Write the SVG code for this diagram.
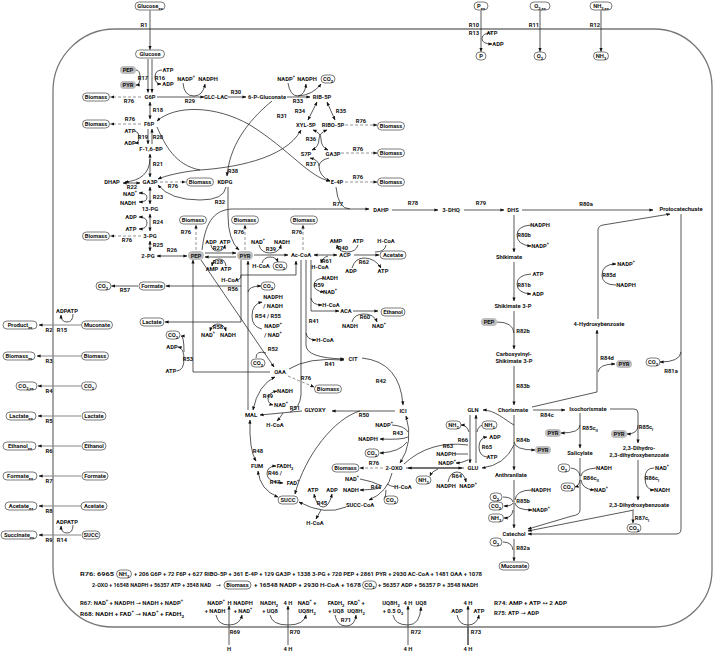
<svg xmlns="http://www.w3.org/2000/svg" width="714" height="654" viewBox="0 0 714 654">
<defs>
<marker id="ah" markerUnits="userSpaceOnUse" markerWidth="4" markerHeight="4" viewBox="0 0 10 10" refX="9" refY="5" orient="auto-start-reverse"><path d="M0,1 L10,5 L0,9 z" fill="#111"/></marker>
</defs>
<style>
.t{font-family:Roboto,"Liberation Sans",Arial,sans-serif;font-weight:bold;font-size:5.8px;text-anchor:middle;dominant-baseline:central;fill:#111}
.s{text-anchor:start}
.ar{font-family:"DejaVu Sans",sans-serif;font-weight:normal}
.l{fill:none;stroke:#111;stroke-width:0.7}
.a{marker-end:url(#ah)}
.b{marker-start:url(#ah);marker-end:url(#ah)}
.dash{fill:none;stroke:#888;stroke-width:0.9;stroke-dasharray:3 2;marker-end:url(#ah)}
.tr{fill:none;stroke:#888;stroke-width:1.2;marker-end:url(#ah)}
.gl{fill:none;stroke:#888;stroke-width:1.4}
.p{fill:#fff;stroke:#222;stroke-width:0.6}
.g{fill:#bdbdbd;stroke:none}
.sup{font-size:4px;baseline-shift:super}
.sub{font-size:4px;baseline-shift:sub}
.wall{fill:none;stroke:#777;stroke-width:1.3}
</style>
<rect width="714" height="654" fill="#fff"/>
<path class="wall" d="M115,29 H654 A58,58 0 0 1 712,87 V570 A57,57 0 0 1 655,627 H113 A60,60 0 0 1 53,567 V91 A62,62 0 0 1 115,29 Z"/>

<g id="connectors">
<path class="l a" d="M150,10.5 V49.5"/>
<path class="l a" d="M481,10.5 V51.5"/>
<path class="l a" d="M492,33 Q482,33 482,38.5 Q482,44 492,44"/>
<path class="l a" d="M540,10.5 V51.5"/>
<path class="l a" d="M601,10.5 V51.5"/>
<path class="tr" d="M81,325 H39"/>
<path class="l a" d="M73,314 Q73,322 67,322 Q61,322 61,315"/>
<path class="tr" d="M81,356 H37"/>
<path class="tr" d="M81,386 H38"/>
<path class="tr" d="M81,416 H38"/>
<path class="tr" d="M81,446 H38"/>
<path class="tr" d="M81,476 H39"/>
<path class="tr" d="M81,506 H39"/>
<path class="tr" d="M81,535 H39"/>
<path class="l a" d="M73,525 Q73,533 67,533 Q61,533 61,526"/>
<path class="l a" d="M148,59 V92.5"/>
<path class="l a" d="M152,59 V92.5"/>
<path class="l a" d="M136,70 Q140,70 140,77 Q140,85 136,85"/>
<path class="l a" d="M162,70 Q155,70 155,77 Q155,84 161,84"/>
<path class="dash" d="M141,97 H110.5"/>
<path class="l a" d="M157,97 H204"/>
<path class="l a" d="M183,83 Q184,96 194,96 Q203,96 205,84"/>
<path class="l a" d="M228,97 H246"/>
<path class="l a" d="M287,97 H310"/>
<path class="l" d="M288,83 Q290,96 298,96"/>
<path class="l a" d="M298,96 Q305,95 306,84"/>
<path class="l a" d="M298,96 Q313,95 321,84"/>
<path class="l a" d="M272,101 C255,115 230,140 227,176"/>
<path class="l b" d="M317,102 L308,120"/>
<path class="l b" d="M327,102 L335,120"/>
<path class="dash" d="M345,125 H377"/>
<path class="l b" d="M313,130 Q321,133 321,139 Q321,147 328,150"/>
<path class="l b" d="M327,130 Q319,133 319,139 Q319,147 312,150"/>
<path class="dash" d="M341,153 H377"/>
<path class="l b" d="M310,158 Q319,160 319,166 Q319,176 330,181"/>
<path class="l" d="M329,158 Q320,160 319,166"/>
<path class="dash" d="M345,182 H377"/>
<path class="l a" d="M202,250 C205,225 212,210 232,209 H369"/>
<path class="l" d="M336,187 Q338,209 350,209"/>
<path class="l a" d="M226,187 Q224,200 200,200 Q170,200 158,185"/>
<path class="l a" d="M228,187 V215 Q228,240 239,250"/>
<path class="l b" d="M157,121 C175,105 215,105 250,125 C290,150 310,178 330,181"/>
<path class="l b" d="M301,130 C285,160 230,168 200,170 C180,172 165,176 158,179"/>
<path class="l" d="M157,127 C165,145 175,165 200,170"/>
<path class="l b" d="M150,102 V119"/>
<path class="dash" d="M141,124 H110.5"/>
<path class="l a" d="M148,129 V144"/>
<path class="l a" d="M152,144 V129"/>
<path class="l a" d="M135,131 Q139,132 139,137 Q139,143 135,143"/>
<path class="l b" d="M150,154 V177"/>
<path class="l a" d="M150,159 Q149,180 125,182"/>
<path class="l b" d="M123,183 H140"/>
<path class="dash" d="M160,182 H185.5"/>
<path class="l b" d="M150,187 V204"/>
<path class="l b" d="M139,193 Q147,193 147,197.5 Q147,202 139,202"/>
<path class="l b" d="M150,214 V231"/>
<path class="l b" d="M139,217 Q147,217 147,223 Q147,229 139,229"/>
<path class="dash" d="M141,236 H110.5"/>
<path class="l b" d="M150,241 V251"/>
<path class="l b" d="M157,256 H187"/>
<path class="l a" d="M205,253 H236"/>
<path class="l a" d="M236,257 H205"/>
<path class="l a" d="M211,245 Q212,251 218,251 Q224,251 225,245"/>
<path class="l a" d="M226,266 Q225,259 219,259 Q213,259 212,266"/>
<path class="dash" d="M196,250 V225"/>
<path class="dash" d="M245,250 V225"/>
<path class="dash" d="M303,250 V225"/>
<path class="l a" d="M254,255 H288"/>
<path class="l a" d="M259,245 Q261,253 270,253 Q279,253 281,245"/>
<path class="l a" d="M262,263 Q264,257 270,257 Q276,257 278,262"/>
<path class="l b" d="M314,255 H337"/>
<path class="l a" d="M354,255 H379"/>
<path class="l a" d="M358,245 Q356,252 347,252 Q338,252 337,245"/>
<path class="l" d="M386,245 Q385,252 375,252"/>
<path class="l a" d="M328,256 Q322,258 321,263"/>
<path class="l a" d="M352,268 Q355,258 364,258 Q375,258 381,268"/>
<path class="l a" d="M311,260 V311 H339"/>
<path class="l a" d="M324,278 Q314,279 314,285 Q314,291 324,292"/>
<path class="l a" d="M311,298 Q312,305 322,305"/>
<path class="l a" d="M353,311 H378"/>
<path class="l a" d="M352,322 Q354,314 364,314 Q374,314 377,322"/>
<path class="l a" d="M306,260 V345 Q306,358 344,359"/>
<path class="l a" d="M306,333 Q307,340 316,340"/>
<path class="l" d="M301,260 V395 Q300,408 290,412"/>
<path class="l a" d="M289,369 Q308,357 344,360"/>
<path class="l a" d="M362,358 Q400,362 403,405"/>
<path class="l a" d="M395,411 H332"/>
<path class="l a" d="M360,411 C335,418 305,455 295,494"/>
<path class="l a" d="M302,411 L260,415"/>
<path class="l a" d="M283,413 Q280,418 277,421"/>
<path class="l b" d="M253,410 Q258,385 275,377"/>
<path class="l b" d="M277,391 Q268,393 268,398 Q268,404 273,405"/>
<path class="dash" d="M288,376 L314,387"/>
<path class="l a" d="M201,260 L274,367"/>
<path class="l" d="M256,358 Q256,350 266,353"/>
<path class="l a" d="M270,372 H193 V260"/>
<path class="l a" d="M177,371 Q184,370 184,359 Q184,348 178,347"/>
<path class="l a" d="M184,352 Q184,336 181,336"/>
<path class="l a" d="M241,260 V322 H165"/>
<path class="l b" d="M210,331 Q212,324 218,324 Q224,324 226,331"/>
<path class="l a" d="M241,286 H166"/>
<path class="l a" d="M241,275 H296 V261"/>
<path class="l" d="M236,280 Q241,280 241,275"/>
<path class="l a" d="M138,286 H111.5"/>
<path class="l a" d="M248,410 V261"/>
<path class="l a" d="M248,292 Q249,286 261,286"/>
<path class="l a" d="M262,329 Q252,327 252,316 Q252,304 262,302"/>
<path class="l b" d="M250,420 Q249,450 256,461"/>
<path class="l b" d="M278,497 Q260,490 258,471"/>
<path class="l b" d="M276,466 Q267,466 267,474 Q267,482 283,483"/>
<path class="l a" d="M346,507 Q325,516 299,502"/>
<path class="l b" d="M314,494 Q317,507 323,507 Q329,507 332,494"/>
<path class="l a" d="M321,510 L316,519"/>
<path class="l b" d="M406,416 Q414,442 400,463"/>
<path class="l" d="M392,425 Q405,426 408,432"/>
<path class="l a" d="M408,437 Q402,440 380,439"/>
<path class="l a" d="M407,442 Q400,452 380,453"/>
<path class="dash" d="M383,468 H360"/>
<path class="l a" d="M392,473 Q388,492 369,500"/>
<path class="l" d="M360,479 Q372,481 382,486"/>
<path class="l a" d="M381,488 Q372,490 360,490"/>
<path class="l" d="M395,487 Q390,486 387,484"/>
<path class="l a" d="M386,490 Q386,497 384,499"/>
<path class="gl" d="M406,468 H464"/>
<path class="l b" d="M408,468 H462"/>
<path class="l a" d="M476,463 V415"/>
<path class="l a" d="M487,457 Q479,456 479,447 Q479,438 487,437"/>
<path class="l" d="M483,425 Q478,426 477,432"/>
<path class="l a" d="M470,415 V463"/>
<path class="l a" d="M469,432 Q467,425 461,425"/>
<path class="l" d="M404,464 Q430,440 468,445"/>
<path class="l" d="M455,454 H468"/>
<path class="l a" d="M468,460 Q462,463 456,463"/>
<path class="l a" d="M438,469 Q432,471 430,476"/>
<path class="l a" d="M448,482 Q450,472 457,472 Q464,472 466,482"/>
<path class="l a" d="M514,425 C505,420 495,410 483,410"/>
<path class="l a" d="M514,445 Q505,465 482,468"/>
<path class="l a" d="M392,210 H438"/>
<path class="l a" d="M464,210 H504"/>
<path class="l a" d="M522,210 H653"/>
<path class="l a" d="M514,215 V252"/>
<path class="l a" d="M531,225 Q517,226 517,235 Q517,245 531,246"/>
<path class="l a" d="M514,262 V301"/>
<path class="l a" d="M531,274 Q517,275 517,284 Q517,293 531,294"/>
<path class="l a" d="M514,311 V349"/>
<path class="l" d="M497,322 Q513,322 514,333"/>
<path class="l a" d="M514,366 V405"/>
<path class="l a" d="M532,407 L597,392 V330"/>
<path class="l a" d="M598,372 Q599,364 615,364"/>
<path class="l a" d="M598,319 V230 Q598,226 603,225 L670,214"/>
<path class="l a" d="M616,285 Q602,285 602,275 Q602,264 616,264"/>
<path class="l a" d="M681,214 V529 Q681,534 676,534 H528"/>
<path class="l a" d="M681,352 Q680,362 660,362"/>
<path class="l a" d="M533,410 H565"/>
<path class="l a" d="M580,413 V448"/>
<path class="l a" d="M580,425 Q580,433 561,433"/>
<path class="l a" d="M610,409 H634 Q638,409 638,413 V443"/>
<path class="l a" d="M638,425 Q638,434 627,434"/>
<path class="l a" d="M638,460 V500"/>
<path class="l a" d="M654,468 Q645,468 645,478 Q645,490 654,490"/>
<path class="l a" d="M634,510 L528,531"/>
<path class="l a" d="M633,511 V523"/>
<path class="l a" d="M580,458 V510 Q580,515 572,516 L528,529"/>
<path class="l" d="M571,468 Q579,469 580,476"/>
<path class="l" d="M596,468 Q582,469 581,476"/>
<path class="l a" d="M580,480 Q579,486 575,487"/>
<path class="l a" d="M581,480 Q582,489 594,490"/>
<path class="l a" d="M514,415 V470"/>
<path class="l a" d="M514,442 Q515,450 535,450"/>
<path class="l a" d="M514,480 V528"/>
<path class="l" d="M503,497 Q512,497 513,502"/>
<path class="l" d="M532,490 Q516,490 515,500"/>
<path class="l a" d="M513,503 Q512,506 504,506"/>
<path class="l a" d="M515,503 Q516,510 532,510"/>
<path class="l a" d="M513,510 Q512,518 504,518"/>
<path class="l a" d="M514,539 V561"/>
<path class="l" d="M503,542 Q512,542 513,550"/>
<path class="l a" d="M229,645 V606"/>
<path class="l a" d="M216,615 Q218,625 229,625 Q240,625 242,615"/>
<path class="l a" d="M288,645 V606"/>
<path class="l a" d="M270,615 Q272,625 288,625 Q304,625 306,615"/>
<path class="l a" d="M335,615 Q337,626 346,626 Q355,626 356,615"/>
<path class="l a" d="M408,645 V606"/>
<path class="l a" d="M393,615 Q395,625 408,625 Q420,625 421,607"/>
<path class="gl" d="M468,627 V645"/>
<path class="l a" d="M468,645 V606"/>
<path class="l a" d="M457,615 Q459,625 468,625 Q477,625 479,615"/>
</g>

<g id="extracellular">
<g id="glucose_ex"><rect class="p" x="135" y="2" width="30" height="8" rx="4"/><text class="t" x="150" y="6">Glucose<tspan class="sub">ex</tspan></text></g>
<g id="p_ex"><rect class="p" x="474" y="2" width="14" height="8" rx="4"/><text class="t" x="481" y="6">P<tspan class="sub">ex</tspan></text></g>
<g id="o2_ex"><rect class="p" x="530" y="2" width="20" height="8" rx="4"/><text class="t" x="540" y="6">O<tspan class="sub">2,ex</tspan></text></g>
<g id="nh3_ex"><rect class="p" x="590" y="2" width="22" height="8" rx="4"/><text class="t" x="601" y="6">NH<tspan class="sub">3,ex</tspan></text></g>
<g id="product_ex"><rect class="p" x="3" y="321" width="34" height="8" rx="4"/><text class="t" x="20" y="325">Product<tspan class="sub">ex</tspan></text></g>
<g id="biomass_ex"><rect class="p" x="3" y="352" width="32" height="8" rx="4"/><text class="t" x="19" y="356">Biomass<tspan class="sub">ex</tspan></text></g>
<g id="co2_ex"><rect class="p" x="16" y="382" width="21" height="8" rx="4"/><text class="t" x="26" y="386">CO<tspan class="sub">2,ex</tspan></text></g>
<g id="lactate_ex"><rect class="p" x="6" y="412" width="30" height="8" rx="4"/><text class="t" x="21" y="416">Lactate<tspan class="sub">ex</tspan></text></g>
<g id="ethanol_ex"><rect class="p" x="3" y="442" width="33" height="8" rx="4"/><text class="t" x="20" y="446">Ethanol<tspan class="sub">ex</tspan></text></g>
<g id="formate_ex"><rect class="p" x="3" y="472" width="34" height="8" rx="4"/><text class="t" x="20" y="476">Formate<tspan class="sub">ex</tspan></text></g>
<g id="acetate_ex"><rect class="p" x="5" y="502" width="32" height="8" rx="4"/><text class="t" x="21" y="506">Acetate<tspan class="sub">ex</tspan></text></g>
<g id="succinate_ex"><rect class="p" x="1" y="531" width="36" height="8" rx="4"/><text class="t" x="19" y="535">Succinate<tspan class="sub">ex</tspan></text></g>
</g>

<g id="transport_in">
<g id="glucose"><rect class="p" x="135.5" y="50" width="29" height="8" rx="4"/><text class="t" x="150" y="54">Glucose</text></g>
<g id="p_in"><rect class="p" x="476" y="52" width="10" height="8" rx="4"/><text class="t" x="481" y="56">P</text></g>
<g id="o2_in"><rect class="p" x="534" y="52" width="12" height="8" rx="4"/><text class="t" x="540" y="56">O<tspan class="sub">2</tspan></text></g>
<g id="nh3_in"><rect class="p" x="593.5" y="52" width="15" height="8" rx="4"/><text class="t" x="601" y="56">NH<tspan class="sub">3</tspan></text></g>
<g id="muconate_in"><rect class="p" x="81.5" y="321" width="31" height="8" rx="4"/><text class="t" x="97" y="325">Muconate</text></g>
<g id="biomass_in"><rect class="p" x="81.5" y="352" width="27" height="8" rx="4"/><text class="t" x="95" y="356">Biomass</text></g>
<g id="co2_in"><rect class="p" x="81.5" y="382" width="15" height="8" rx="4"/><text class="t" x="89" y="386">CO<tspan class="sub">2</tspan></text></g>
<g id="lactate_in"><rect class="p" x="82" y="412" width="24" height="8" rx="4"/><text class="t" x="94" y="416">Lactate</text></g>
<g id="ethanol_in"><rect class="p" x="82" y="442" width="24" height="8" rx="4"/><text class="t" x="94" y="446">Ethanol</text></g>
<g id="formate_in"><rect class="p" x="82" y="472" width="26" height="8" rx="4"/><text class="t" x="95" y="476">Formate</text></g>
<g id="acetate_in"><rect class="p" x="81" y="502" width="26" height="8" rx="4"/><text class="t" x="94" y="506">Acetate</text></g>
<g id="succ_in"><rect class="p" x="82" y="531" width="18" height="8" rx="4"/><text class="t" x="91" y="535">SUCC</text></g>
<text class="t" x="67" y="311">ADPATP</text>
<text class="t" x="67" y="522">ADPATP</text>
<text class="t" x="492" y="33">ATP</text>
<text class="t" x="498" y="44">ADP</text>
</g>

<g id="metabolites">
<g id="pep_a"><rect class="g" x="120" y="66" width="16" height="8" rx="4"/><text class="t" x="128" y="70">PEP</text></g>
<g id="pyr_a"><rect class="g" x="120" y="81" width="16" height="8" rx="4"/><text class="t" x="128" y="85">PYR</text></g>
<text class="t" x="168" y="70">ATP</text><text class="t" x="168" y="84">ADP</text>
<g id="g6p"><text class="t" x="150" y="97">G6P</text></g>
<g id="biomass_g6p"><rect class="p" x="82.5" y="93" width="27" height="8" rx="4"/><text class="t" x="96" y="97">Biomass</text></g>
<g id="f6p"><text class="t" x="149" y="124">F6P</text></g>
<g id="biomass_f6p"><rect class="p" x="82.5" y="120" width="27" height="8" rx="4"/><text class="t" x="96" y="124">Biomass</text></g>
<text class="t" x="130" y="131">ATP</text><text class="t" x="130" y="143">ADP</text>
<g id="f16bp"><text class="t" x="151" y="149">F-1,6-BP</text></g>
<g id="dhap"><text class="t" x="112" y="182">DHAP</text></g>
<g id="ga3p"><text class="t" x="150" y="182">GA3P</text></g>
<g id="biomass_ga3p"><rect class="p" x="186.5" y="178" width="27" height="8" rx="4"/><text class="t" x="200" y="182">Biomass</text></g>
<text class="t" x="130" y="194">NAD<tspan class="sup">+</tspan></text><text class="t" x="128" y="202.5">NADH</text>
<g id="pg13"><text class="t" x="150" y="209">13-PG</text></g>
<text class="t" x="131" y="217">ADP</text><text class="t" x="131" y="229">ATP</text>
<g id="pg3"><text class="t" x="150" y="236">3-PG</text></g>
<g id="biomass_3pg"><rect class="p" x="82.5" y="232" width="27" height="8" rx="4"/><text class="t" x="96" y="236">Biomass</text></g>
<g id="pg2"><text class="t" x="148" y="256">2-PG</text></g>

<text class="t" x="186" y="79">NADP<tspan class="sup">+</tspan></text><text class="t" x="208" y="79">NADPH</text>
<g id="glclac"><text class="t" x="216" y="97">GLC-LAC</text></g>
<g id="pgluc"><text class="t" x="267" y="97">6-P-Gluconate</text></g>
<text class="t" x="286" y="79">NADP<tspan class="sup">+</tspan></text><text class="t" x="307" y="79">NADPH</text>
<g id="co2_r33"><rect class="p" x="321" y="75" width="14" height="8" rx="4"/><text class="t" x="328" y="79">CO<tspan class="sub">2</tspan></text></g>
<g id="rib5p"><text class="t" x="322" y="97">RIB-5P</text></g>
<g id="xyl5p"><text class="t" x="306" y="125">XYL-5P</text></g>
<g id="ribo5p"><text class="t" x="333" y="125">RIBO-5P</text></g>
<g id="biomass_r5p"><rect class="p" x="377.5" y="122" width="27" height="8" rx="4"/><text class="t" x="391" y="126">Biomass</text></g>
<g id="s7p"><text class="t" x="306" y="154">S7P</text></g>
<g id="ga3p_b"><text class="t" x="333" y="154">GA3P</text></g>
<g id="biomass_ga3pb"><rect class="p" x="377.5" y="149" width="27" height="8" rx="4"/><text class="t" x="391" y="153">Biomass</text></g>
<g id="e4p"><text class="t" x="337" y="182">E-4P</text></g>
<g id="biomass_e4p"><rect class="p" x="377.5" y="178" width="27" height="8" rx="4"/><text class="t" x="391" y="182">Biomass</text></g>
<g id="kdpg"><text class="t" x="225" y="182">KDPG</text></g>
<g id="dahp"><text class="t" x="381" y="210">DAHP</text></g>
<g id="dhq"><text class="t" x="451" y="210">3-DHQ</text></g>
<g id="dhs"><text class="t" x="513" y="210">DHS</text></g>
<g id="pca"><text class="t" x="681" y="209">Protocatechuate</text></g>

<g id="biomass_pep"><rect class="p" x="179.5" y="216" width="27" height="8" rx="4"/><text class="t" x="193" y="220">Biomass</text></g>
<g id="biomass_pyr"><rect class="p" x="231.5" y="216" width="27" height="8" rx="4"/><text class="t" x="245" y="220">Biomass</text></g>
<g id="biomass_accoa"><rect class="p" x="290.5" y="216" width="27" height="8" rx="4"/><text class="t" x="304" y="220">Biomass</text></g>
<g id="pep"><rect class="g" x="188" y="251" width="16" height="9" rx="4.5"/><text class="t" x="196" y="255.5">PEP</text></g>
<g id="pyr"><rect class="g" x="237" y="251" width="16" height="9" rx="4.5"/><text class="t" x="245" y="255.5">PYR</text></g>
<text class="t" x="211" y="242">ADP</text><text class="t" x="225" y="242">ATP</text>
<text class="t" x="212" y="269">AMP</text><text class="t" x="226" y="269">ATP</text>
<text class="t" x="258" y="242">NAD<tspan class="sup">+</tspan></text><text class="t" x="282" y="242">NADH</text>
<text class="t" x="261" y="266">H-CoA</text>
<g id="co2_r39"><rect class="p" x="273" y="262" width="14" height="8" rx="4"/><text class="t" x="280" y="266">CO<tspan class="sub">2</tspan></text></g>
<g id="accoa"><text class="t" x="301" y="255">Ac-CoA</text></g>
<text class="t" x="336" y="241">AMP</text><text class="t" x="358" y="241">ATP</text><text class="t" x="386" y="241">H-CoA</text>
<g id="acp"><text class="t" x="345" y="255">ACP</text></g>
<text class="t" x="320" y="267">H-CoA</text>
<text class="t" x="351" y="271">ADP</text><text class="t" x="383" y="271">ATP</text>
<g id="acetate"><rect class="p" x="380" y="251" width="26" height="8" rx="4"/><text class="t" x="393" y="255">Acetate</text></g>
<text class="t" x="330" y="278">NADH</text><text class="t" x="330" y="292">NAD<tspan class="sup">+</tspan></text>
<text class="t" x="331" y="305">H-CoA</text>
<g id="aca"><text class="t" x="346" y="311">ACA</text></g>
<text class="t" x="350" y="326">NADH</text><text class="t" x="379" y="326">NAD<tspan class="sup">+</tspan></text>
<g id="ethanol"><rect class="p" x="381" y="308" width="24" height="8" rx="4"/><text class="t" x="393" y="312">Ethanol</text></g>
<text class="t" x="230" y="280">H-CoA</text>
<g id="co2_r54"><rect class="p" x="261" y="282" width="14" height="8" rx="4"/><text class="t" x="268" y="286">CO<tspan class="sub">2</tspan></text></g>
<g id="formate"><rect class="p" x="139" y="282" width="26" height="8" rx="4"/><text class="t" x="152" y="286">Formate</text></g>
<g id="co2_r57"><rect class="p" x="96" y="282" width="15" height="8" rx="4"/><text class="t" x="103" y="286">CO<tspan class="sub">2</tspan></text></g>
<text class="t" x="273" y="297">NADPH</text><text class="t" x="273" y="306">/ NADH</text>
<text class="t" x="273" y="326">NADP<tspan class="sup">+</tspan></text><text class="t" x="273" y="335">/ NAD<tspan class="sup">+</tspan></text>
<g id="lactate"><rect class="p" x="140" y="318" width="24" height="8" rx="4"/><text class="t" x="152" y="322">Lactate</text></g>
<text class="t" x="208" y="335">NAD<tspan class="sup">+</tspan></text><text class="t" x="228" y="335">NADH</text>
<g id="co2_r53"><rect class="p" x="166" y="331" width="14" height="8" rx="4"/><text class="t" x="173" y="335">CO<tspan class="sub">2</tspan></text></g>
<text class="t" x="172" y="347">ADP</text><text class="t" x="171" y="371">ATP</text>
<text class="t" x="325" y="340">H-CoA</text>
<g id="cit"><text class="t" x="353" y="359">CIT</text></g>
<g id="co2_r52"><rect class="p" x="251" y="359" width="14" height="8" rx="4"/><text class="t" x="258" y="363">CO<tspan class="sub">2</tspan></text></g>
<g id="oaa"><text class="t" x="280" y="372">OAA</text></g>
<g id="biomass_oaa"><rect class="p" x="314.5" y="385" width="27" height="8" rx="4"/><text class="t" x="328" y="389">Biomass</text></g>
<text class="t" x="285" y="391">NADH</text><text class="t" x="281" y="405">NAD<tspan class="sup">+</tspan></text>
<g id="glyoxy"><text class="t" x="315" y="410">GLYOXY</text></g>
<g id="mal"><text class="t" x="251" y="415">MAL</text></g>
<text class="t" x="275" y="425">H-CoA</text>
<g id="ici"><text class="t" x="403" y="411">ICI</text></g>
<text class="t" x="384" y="425">NADP<tspan class="sup">+</tspan></text><text class="t" x="368" y="439">NADPH</text>
<g id="co2_r43"><rect class="p" x="365" y="449" width="14" height="8" rx="4"/><text class="t" x="372" y="453">CO<tspan class="sub">2</tspan></text></g>
<g id="fum"><text class="t" x="257" y="466">FUM</text></g>
<text class="t" x="285" y="466">FADH<tspan class="sub">2</tspan></text><text class="t" x="293" y="483">FAD<tspan class="sup">+</tspan></text>
<g id="biomass_oxo"><rect class="p" x="332" y="464" width="27" height="8" rx="4"/><text class="t" x="345.5" y="468">Biomass</text></g>
<g id="oxo"><text class="t" x="394" y="468">2-OXO</text></g>
<text class="t" x="352" y="479">NAD<tspan class="sup">+</tspan></text><text class="t" x="351" y="490">NADH</text>
<text class="t" x="403" y="487">H-CoA</text>
<g id="co2_r44"><rect class="p" x="384" y="496" width="14" height="8" rx="4"/><text class="t" x="391" y="500">CO<tspan class="sub">2</tspan></text></g>
<g id="succcoa"><text class="t" x="360" y="505">SUCC-CoA</text></g>
<text class="t" x="313" y="490">ATP</text><text class="t" x="332" y="490">ADP</text>
<g id="succ"><rect class="p" x="278" y="496" width="20" height="8" rx="4"/><text class="t" x="288" y="500">SUCC</text></g>
<text class="t" x="315" y="523">H-CoA</text>

<text class="t" x="540" y="225">NADPH</text><text class="t" x="540" y="246">NADP<tspan class="sup">+</tspan></text>
<g id="shikimate"><text class="t" x="509" y="257">Shikimate</text></g>
<text class="t" x="538" y="274">ATP</text><text class="t" x="538" y="294">ADP</text>
<g id="s3p"><text class="t" x="513" y="306">Shikimate 3-P</text></g>
<g id="pep_b"><rect class="g" x="481" y="318" width="16" height="8" rx="4"/><text class="t" x="489" y="322">PEP</text></g>
<g id="cs3p"><text class="t" x="514" y="354">Carboxyvinyl-</text><text class="t" x="514" y="361">Shikimate 3-P</text></g>
<g id="chorismate"><text class="t" x="513" y="410">Chorismate</text></g>
<g id="hb4"><text class="t" x="599" y="324">4-Hydroxybenzoate</text></g>
<text class="t" x="626" y="264">NADP<tspan class="sup">+</tspan></text><text class="t" x="626" y="285">NADPH</text>
<g id="pyr_84d"><rect class="g" x="616" y="360" width="16" height="8" rx="4"/><text class="t" x="624" y="364">PYR</text></g>
<g id="co2_81a"><rect class="p" x="646" y="358" width="14" height="8" rx="4"/><text class="t" x="653" y="362">CO<tspan class="sub">2</tspan></text></g>
<g id="isochorismate"><text class="t" x="588" y="409">Isochorismate</text></g>
<g id="pyr_85c2"><rect class="g" x="545" y="429" width="16" height="8" rx="4"/><text class="t" x="553" y="433">PYR</text></g>
<g id="pyr_85c1"><rect class="g" x="611" y="430" width="16" height="8" rx="4"/><text class="t" x="619" y="434">PYR</text></g>
<g id="gln"><text class="t" x="473" y="410">GLN</text></g>
<g id="nh3_a"><rect class="p" x="446" y="421" width="15" height="8" rx="4"/><text class="t" x="453.5" y="425">NH<tspan class="sub">3</tspan></text></g>
<g id="nh3_b"><rect class="p" x="482" y="421" width="15" height="8" rx="4"/><text class="t" x="489.5" y="425">NH<tspan class="sub">3</tspan></text></g>
<text class="t" x="495" y="437">ADP</text><text class="t" x="492" y="457">ATP</text>
<text class="t" x="446" y="454">NADPH</text><text class="t" x="447" y="463">NADP<tspan class="sup">+</tspan></text>
<g id="glu"><text class="t" x="473" y="468">GLU</text></g>
<g id="nh3_c"><rect class="p" x="416" y="476" width="15" height="8" rx="4"/><text class="t" x="423.5" y="480">NH<tspan class="sub">3</tspan></text></g>
<text class="t" x="446" y="486">NADPH</text><text class="t" x="468" y="486">NADP<tspan class="sup">+</tspan></text>
<g id="pyr_84b"><rect class="g" x="535" y="446" width="16" height="8" rx="4"/><text class="t" x="543" y="450">PYR</text></g>
<g id="salicylate"><text class="t" x="580" y="453">Salicylate</text></g>
<g id="dhdhb"><text class="t" x="639" y="448">2,3-Dihydro-</text><text class="t" x="639" y="455">2,3-dihydroxybenzoate</text></g>
<g id="anthranilate"><text class="t" x="511" y="475">Anthranilate</text></g>
<g id="o2_86"><rect class="p" x="558" y="464" width="12" height="8" rx="4"/><text class="t" x="564" y="468">O<tspan class="sub">2</tspan></text></g>
<text class="t" x="604" y="468">NADH</text>
<g id="co2_86"><rect class="p" x="561" y="483" width="14" height="8" rx="4"/><text class="t" x="568" y="487">CO<tspan class="sub">2</tspan></text></g>
<text class="t" x="601" y="490">NAD<tspan class="sup">+</tspan></text>
<text class="t" x="662" y="468">NAD<tspan class="sup">+</tspan></text><text class="t" x="662" y="490">NADH</text>
<g id="o2_85b"><rect class="p" x="490" y="493" width="12" height="8" rx="4"/><text class="t" x="496" y="497">O<tspan class="sub">2</tspan></text></g>
<g id="co2_85b"><rect class="p" x="489" y="502" width="14" height="8" rx="4"/><text class="t" x="496" y="506">CO<tspan class="sub">2</tspan></text></g>
<g id="nh3_85b"><rect class="p" x="488.5" y="514" width="15" height="8" rx="4"/><text class="t" x="496" y="518">NH<tspan class="sub">3</tspan></text></g>
<text class="t" x="541" y="490">NADPH</text><text class="t" x="541" y="510">NADP<tspan class="sup">+</tspan></text>
<g id="dhb23"><text class="t" x="639" y="505">2,3-Dihydroxybenzoate</text></g>
<g id="co2_87"><rect class="p" x="627" y="524" width="14" height="8" rx="4"/><text class="t" x="634" y="528">CO<tspan class="sub">2</tspan></text></g>
<g id="catechol"><text class="t" x="514" y="534">Catechol</text></g>
<g id="o2_82a"><rect class="p" x="490" y="538" width="12" height="8" rx="4"/><text class="t" x="496" y="542">O<tspan class="sub">2</tspan></text></g>
<g id="muconate"><rect class="p" x="499" y="562" width="30" height="8" rx="4"/><text class="t" x="514" y="566">Muconate</text></g>
</g>

<g id="reaction_labels">
<text class="t" x="144" y="25">R1</text>
<text class="t" x="474" y="25">R10</text><text class="t" x="474" y="33">R13</text>
<text class="t" x="534" y="25">R11</text><text class="t" x="595" y="25">R12</text>
<text class="t" x="49" y="330">R2</text><text class="t" x="62" y="330">R15</text>
<text class="t" x="49" y="361">R3</text><text class="t" x="49" y="391">R4</text><text class="t" x="49" y="421">R5</text>
<text class="t" x="49" y="451">R6</text><text class="t" x="49" y="481">R7</text><text class="t" x="49" y="511">R8</text>
<text class="t" x="49" y="540">R9</text><text class="t" x="62" y="540">R14</text>
<text class="t" x="143" y="78">R17</text><text class="t" x="160" y="78">R16</text>
<text class="t" x="129" y="101">R76</text><text class="t" x="130" y="119">R76</text>
<text class="t" x="158" y="110">R18</text>
<text class="t" x="143" y="137">R19</text><text class="t" x="158" y="137">R20</text>
<text class="t" x="158" y="164">R21</text><text class="t" x="132" y="186.5">R22</text>
<text class="t" x="173" y="186">R76</text><text class="t" x="158" y="197">R23</text>
<text class="t" x="158" y="222">R24</text><text class="t" x="127" y="240">R76</text>
<text class="t" x="158" y="245">R25</text><text class="t" x="172" y="250">R26</text>
<text class="t" x="190" y="101">R29</text><text class="t" x="236" y="92">R30</text>
<text class="t" x="282" y="116">R31</text><text class="t" x="298" y="101">R33</text>
<text class="t" x="300" y="111">R34</text><text class="t" x="341" y="111">R35</text>
<text class="t" x="361" y="121">R76</text><text class="t" x="311" y="139">R36</text>
<text class="t" x="358" y="149">R76</text><text class="t" x="311" y="164">R37</text>
<text class="t" x="233" y="171">R38</text><text class="t" x="358" y="177">R76</text>
<text class="t" x="220" y="202">R32</text><text class="t" x="338" y="204">R77</text>
<text class="t" x="413" y="203">R78</text><text class="t" x="481" y="203">R79</text>
<text class="t" x="586" y="204">R80a</text>
<text class="t" x="186" y="232">R76</text><text class="t" x="239" y="232">R76</text><text class="t" x="297" y="232">R76</text>
<text class="t" x="218" y="248">R27</text><text class="t" x="218" y="262">R28</text>
<text class="t" x="271" y="249">R39</text><text class="t" x="343" y="248">R40</text>
<text class="t" x="327" y="261">R61</text><text class="t" x="364" y="262">R62</text>
<text class="t" x="233" y="289">R56</text><text class="t" x="319" y="285">R59</text>
<text class="t" x="365" y="317">R60</text><text class="t" x="314" y="321">R41</text>
<text class="t" x="268" y="316">R54 / R55</text><text class="t" x="218" y="327">R58</text>
<text class="t" x="125" y="290">R57</text><text class="t" x="273" y="349">R52</text>
<text class="t" x="188" y="359">R53</text><text class="t" x="330" y="364">R41</text>
<text class="t" x="306" y="378">R76</text><text class="t" x="381" y="381">R42</text>
<text class="t" x="268" y="396">R49</text><text class="t" x="295" y="408">R51</text>
<text class="t" x="364" y="415">R50</text><text class="t" x="398" y="433">R43</text>
<text class="t" x="258" y="451">R48</text><text class="t" x="275" y="473">R46 /</text>
<text class="t" x="275" y="482">R47</text><text class="t" x="374" y="463">R76</text>
<text class="t" x="376" y="487">R44</text><text class="t" x="322" y="503">R45</text>
<text class="t" x="524" y="235">R80b</text><text class="t" x="524" y="285">R81b</text>
<text class="t" x="523" y="331">R82b</text><text class="t" x="523" y="386">R83b</text>
<text class="t" x="609" y="275">R85d</text><text class="t" x="607" y="358">R84d</text>
<text class="t" x="671" y="371">R81a</text><text class="t" x="547" y="415">R84c</text>
<text class="t" x="590" y="428">R85c<tspan class="sub">II</tspan></text><text class="t" x="646" y="427">R85c<tspan class="sub">I</tspan></text>
<text class="t" x="523" y="440">R84b</text><text class="t" x="463" y="440">R66</text>
<text class="t" x="487" y="447">R65</text><text class="t" x="448" y="446">R63</text>
<text class="t" x="457" y="476">R64</text><text class="t" x="523" y="501">R85b</text>
<text class="t" x="591" y="478">R86c<tspan class="sub">II</tspan></text><text class="t" x="652" y="478">R86c<tspan class="sub">I</tspan></text>
<text class="t" x="642" y="518">R87c<tspan class="sub">I</tspan></text><text class="t" x="523" y="548">R82a</text>
<text class="t" x="235" y="632">R69</text><text class="t" x="295" y="632">R70</text>
<text class="t" x="346" y="620">R71</text><text class="t" x="416" y="632">R72</text>
<text class="t" x="476" y="632">R73</text>
</g>

<g id="membrane_reactions">
<text class="t" x="216" y="603">NADP<tspan class="sup">+</tspan></text><text class="t" x="215" y="611">+ NADH</text>
<text class="t" x="229.5" y="603">H</text><text class="t" x="243" y="603">NADPH</text><text class="t" x="243" y="611">+ NAD<tspan class="sup">+</tspan></text>
<text class="t" x="229" y="649">H</text>
<text class="t" x="269" y="603">NADH<tspan class="sub">2</tspan></text><text class="t" x="270" y="611">+ UQ8</text>
<text class="t" x="288" y="603">4 H</text><text class="t" x="307" y="603">NAD<tspan class="sup">+</tspan> +</text><text class="t" x="307" y="611">UQ8H<tspan class="sub">2</tspan></text>
<text class="t" x="288" y="649">4 H</text>
<text class="t" x="336" y="603">FADH<tspan class="sub">2</tspan></text><text class="t" x="336" y="611">+ UQ8</text>
<text class="t" x="356" y="603">FAD<tspan class="sup">+</tspan> +</text><text class="t" x="356" y="611">UQ8H<tspan class="sub">2</tspan></text>
<text class="t" x="391" y="603">UQ8H<tspan class="sub">2</tspan></text><text class="t" x="393" y="611">+ 0.5 O<tspan class="sub">2</tspan></text>
<text class="t" x="408" y="603">4 H</text><text class="t" x="421" y="603">UQ8</text>
<text class="t" x="408" y="649">4 H</text>
<text class="t" x="468" y="603">4 H</text><text class="t" x="457" y="611">ADP</text><text class="t" x="479" y="611">ATP</text>
<text class="t" x="468" y="649">4 H</text>
</g>

<g id="equations">
<text class="t s" x="80" y="574" textLength="34" lengthAdjust="spacingAndGlyphs">R76: 6965</text>
<rect class="p" x="116.5" y="570" width="15" height="8" rx="4"/><text class="t" x="124" y="574">NH<tspan class="sub">3</tspan></text>
<text class="t s" x="134" y="574" textLength="348" lengthAdjust="spacingAndGlyphs">+ 206 G6P + 72 F6P + 627 RIBO-5P + 361 E-4P + 129 GA3P + 1338 3-PG + 720 PEP + 2861 PYR + 2930 AC-CoA + 1481 OAA + 1078</text>
<text class="t s" x="92" y="585" style="font-size:5.4px" textLength="119" lengthAdjust="spacingAndGlyphs">2-OXO + 16548 NADPH + 56357 ATP + 3548 NAD</text>
<text class="t ar" x="218.5" y="585">→</text>
<rect class="p" x="224" y="581" width="27" height="8" rx="4"/><text class="t" x="237.5" y="585">Biomass</text>
<text class="t s" x="254" y="585" textLength="107" lengthAdjust="spacingAndGlyphs">+ 16548 NADP + 2930 H-CoA + 1678</text>
<rect class="p" x="362.5" y="581" width="14" height="8" rx="4"/><text class="t" x="369.5" y="585">CO<tspan class="sub">2</tspan></text>
<text class="t s" x="378" y="585" textLength="100" lengthAdjust="spacingAndGlyphs">+ 56357 ADP + 56357 P + 3548 NADH</text>
<text class="t s" x="80" y="603" textLength="103" lengthAdjust="spacingAndGlyphs">R67: NAD<tspan class="sup">+</tspan> + NADPH <tspan class="ar">→</tspan> NADH + NADP<tspan class="sup">+</tspan></text>
<text class="t s" x="80" y="614" textLength="104" lengthAdjust="spacingAndGlyphs">R68: NADH + FAD<tspan class="sup">+</tspan> <tspan class="ar">→</tspan> NAD<tspan class="sup">+</tspan> + FADH<tspan class="sub">2</tspan></text>
<text class="t s" x="494" y="603" textLength="73" lengthAdjust="spacingAndGlyphs">R74: AMP + ATP <tspan class="ar">↔</tspan> 2 ADP</text>
<text class="t s" x="494" y="613" textLength="45" lengthAdjust="spacingAndGlyphs">R75: ATP <tspan class="ar">→</tspan> ADP</text>
</g>
</svg>
